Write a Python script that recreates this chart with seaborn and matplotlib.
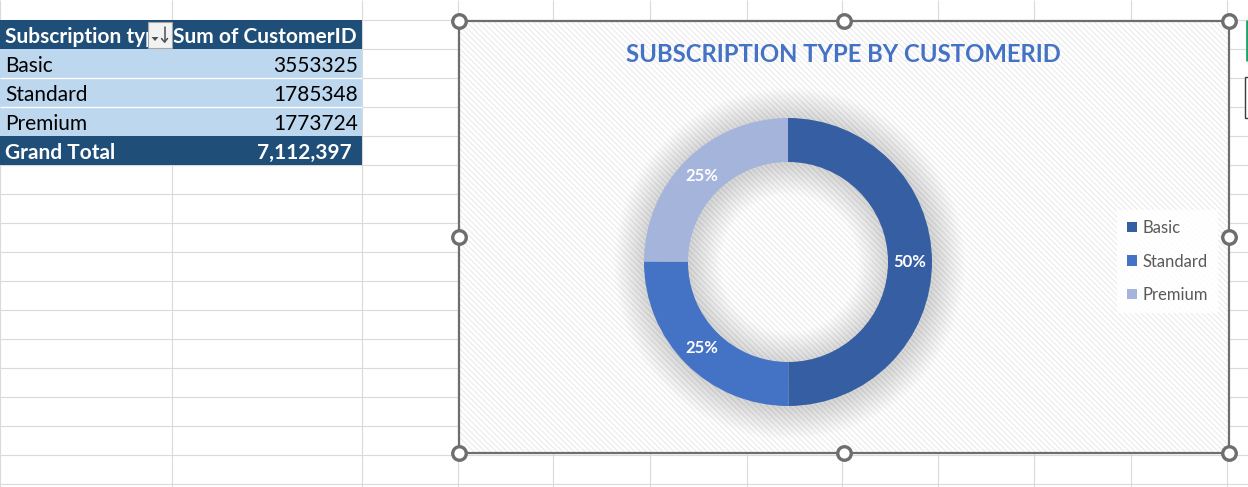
import numpy as np
import matplotlib
matplotlib.use("Agg")
import matplotlib.pyplot as plt
from matplotlib.patches import Rectangle, Wedge, Polygon
import seaborn as sns

# --- Data (pivot table) ---
SUB_TYPES = ['Basic', 'Standard', 'Premium']
CUSTOMER_SUMS = [3553325, 1785348, 1773724]
HEADER = ['Subscription type', 'Sum of CustomerID']
TOTAL_LABEL = 'Grand Total'
CHART_TITLE = 'SUBSCRIPTION TYPE BY CUSTOMERID'

# --- Colours ---
SLICE_COLORS = ['#355EA3', '#4472C4', '#A5B4DB']
DARK_BLUE = '#1F4E78'
LIGHT_BLUE = '#BDD7EE'
GRID_COLOR = '#DADADA'
FRAME_GRAY = '#6E6E6E'

# --- Layout (pixels, sheet coordinates) ---
W, H = 1248, 487
COL_EDGES = [0, 172, 362, 458, 553, 650, 747, 842, 938, 1034, 1131, 1227]
ROW_H = 29
ROW_TOP = 20
CHART_BOX = (459, 21, 1229, 453)  # left, top, right, bottom
DONUT_CENTER = (788, 262)
R_OUT, R_IN = 144, 100

sns.set_theme(style='white')
plt.rcParams['font.family'] = ['Lato', 'DejaVu Sans']
plt.rcParams['hatch.linewidth'] = 0.9

fig = plt.figure(figsize=(W / 100, H / 100), dpi=100)
fig.patch.set_facecolor('white')
bg = fig.add_axes([0, 0, 1, 1])
bg.set_xlim(0, W)
bg.set_ylim(H, 0)
bg.axis('off')

# --- spreadsheet gridlines ---
row_edges = np.arange(ROW_TOP - ROW_H, H + ROW_H, ROW_H)
bg.hlines(row_edges, 0, W, color=GRID_COLOR, lw=0.8, zorder=0)
bg.vlines(COL_EDGES, 0, H, color=GRID_COLOR, lw=0.8, zorder=0)

# --- pivot table ---
table_right = COL_EDGES[2]
n_rows = len(SUB_TYPES) + 2
for i in range(n_rows):
    top = ROW_TOP + i * ROW_H
    fill = DARK_BLUE if i in (0, n_rows - 1) else LIGHT_BLUE
    bg.add_patch(Rectangle((0, top), table_right, ROW_H, fc=fill, ec='none', zorder=1))
for i in range(2, n_rows - 1):
    bg.hlines(ROW_TOP + i * ROW_H, 0, table_right, color='white', lw=1.0, zorder=2)


def row_mid(i):
    return ROW_TOP + (i + 0.6) * ROW_H


cell_font = dict(fontsize=15, va='center', zorder=3)
bg.text(5, row_mid(0), HEADER[0], color='white', fontweight='bold', **cell_font)
bg.text(table_right - 5, row_mid(0), HEADER[1], color='white', fontweight='bold',
        ha='right', **cell_font)
for i, (name, val) in enumerate(zip(SUB_TYPES, CUSTOMER_SUMS), start=1):
    bg.text(5, row_mid(i), name, color='black', **cell_font)
    bg.text(table_right - 4, row_mid(i), str(val), color='black', ha='right', **cell_font)
bg.text(5, row_mid(n_rows - 1), TOTAL_LABEL, color='white', fontweight='bold', **cell_font)
bg.text(table_right - 10, row_mid(n_rows - 1), f'{sum(CUSTOMER_SUMS):,}', color='white',
        fontweight='bold', ha='right', **cell_font)

# filter / sort button in the header cell (covers the end of the header text)
bg.add_patch(Rectangle((148, 22), 24, 26, fc='#F2F2F2', ec='#A6A6A6', lw=0.8, zorder=4))
bg.add_patch(Polygon([(151.5, 37), (158.5, 37), (155, 41)], closed=True, fc='#505050',
                     ec='none', zorder=5))
bg.plot([164.5, 164.5], [27, 42], color='#505050', lw=1.1, zorder=5)
bg.plot([161.5, 164.5, 167.5], [38.5, 42, 38.5], color='#505050', lw=1.1, zorder=5)

# bits of excel UI at the right edge
bg.vlines(W - 1.5, 20, 61, color='#21A366', lw=2, zorder=3)
bg.add_patch(Rectangle((1245, 77), 10, 41, fc='white', ec='#3C3C3C', lw=1, zorder=3))

# --- chart area ---
cl, ct, cr, cb = CHART_BOX
bg.add_patch(Rectangle((cl, ct), cr - cl, cb - ct, fc='white', ec='#EDEDED', lw=0,
                       hatch='\\\\\\\\\\\\', zorder=5))
bg.add_patch(Rectangle((cl, ct), cr - cl, cb - ct, fc='none', ec=FRAME_GRAY, lw=1.6, zorder=6))

hx = [cl, (cl + cr) / 2, cr]
hy = [ct, (ct + cb) / 2, cb]
handles = [(x, y) for x in hx for y in hy if not (x == hx[1] and y == hy[1])]
bg.scatter([p[0] for p in handles], [p[1] for p in handles], s=95, facecolor='white',
           edgecolor=FRAME_GRAY, linewidth=2.4, zorder=7, clip_on=False)

fig.text(((cl + cr) / 2 - 1) / W, 1 - 55 / H, CHART_TITLE, ha='center', va='center',
         color='#4472C4', fontsize=17.2, fontweight='bold')

# --- donut ---
half = 200
cx, cy = DONUT_CENTER
dax = fig.add_axes([(cx - half) / W, (H - cy - half) / H, 2 * half / W, 2 * half / H])
dax.set_facecolor('none')

ring_w = (R_OUT - R_IN) / R_OUT
# soft drop shadow
for k in range(20):
    d = 0.011 * (k + 1)
    dax.add_patch(Wedge((0.01, -0.01), 1 + d, 0, 360, width=ring_w + 2 * d,
                        fc='black', alpha=0.008, lw=0, zorder=0))

wedges, _, pct_texts = dax.pie(
    CUSTOMER_SUMS,
    colors=sns.color_palette(SLICE_COLORS),
    startangle=90,
    counterclock=False,
    radius=1,
    wedgeprops=dict(width=ring_w, linewidth=0),
    autopct='%.0f%%',
    pctdistance=1 - ring_w / 2,
    textprops=dict(color='white', fontsize=12, fontweight='bold'),
)
lim = half / R_OUT
dax.set_xlim(-lim, lim)
dax.set_ylim(-lim, lim)
dax.set_aspect('equal')
dax.axis('off')

leg = fig.legend(wedges, SUB_TYPES, loc='upper left', bbox_to_anchor=(1117 / W, 1 - 210 / H),
                 frameon=True, fancybox=False, fontsize=12, labelcolor='#595959',
                 handlelength=0.6, handleheight=0.6, handletextpad=0.35,
                 labelspacing=1.05, borderpad=0.6, borderaxespad=0, framealpha=0.85)
leg.get_frame().set_facecolor('white')
leg.get_frame().set_edgecolor('none')

fig.savefig('out.png', dpi=100)
